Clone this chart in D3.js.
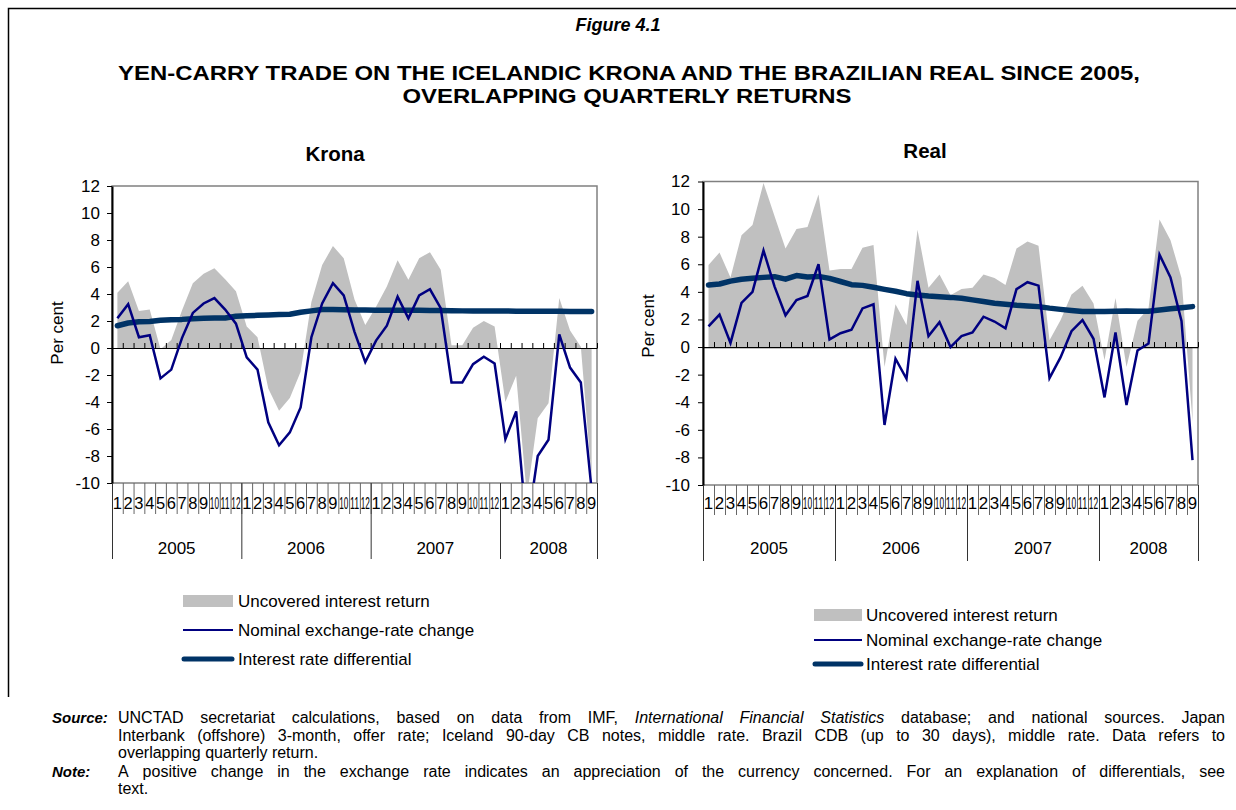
<!DOCTYPE html>
<html><head><meta charset="utf-8">
<script src="https://cdn.jsdelivr.net/npm/d3@7"></script>
<style>body{margin:0;background:#fff}svg{display:block}text{font-family:Arial,"Liberation Sans",sans-serif;fill:#000}</style>
</head><body><svg id="c" width="1236" height="810"></svg>
<script>
// ---------- data ----------
const months = ["1","2","3","4","5","6","7","8","9","10","11","12",
                "1","2","3","4","5","6","7","8","9","10","11","12",
                "1","2","3","4","5","6","7","8","9","10","11","12",
                "1","2","3","4","5","6","7","8","9"];
const years = ["2005","2006","2007","2008"];
const yearStarts = [0,12,24,36,45];
const yTicks = [-10,-8,-6,-4,-2,0,2,4,6,8,10,12];
const legendLabels = ["Uncovered interest return","Nominal exchange-rate change","Interest rate differential"];

const kronaUIR = [4.1,4.95,2.75,2.85,-0.1,0.6,2.8,4.8,5.5,5.9,5.1,4.2,1.6,0.8,-3.0,-4.65,-3.7,-1.75,3.4,6.15,7.55,6.65,3.6,1.7,3.05,4.55,6.5,5.05,6.65,7.1,5.8,0.2,0.2,1.5,2.0,1.6,-4.0,-2.05,-11.0,-5.2,-4.1,3.7,1.3,0.1,-9.6];
const kronaNER = [2.2,3.25,0.8,0.95,-2.25,-1.6,0.75,2.6,3.3,3.7,2.85,1.8,-0.7,-1.6,-5.5,-7.2,-6.25,-4.4,0.8,3.3,4.8,3.9,1.2,-1.05,0.55,1.65,3.8,2.2,3.9,4.35,2.95,-2.55,-2.55,-1.2,-0.65,-1.15,-6.75,-4.7,-13.5,-8.0,-6.8,1.0,-1.45,-2.55,-10.5];
const kronaIRD = [1.65,1.85,1.95,1.97,2.05,2.1,2.12,2.17,2.2,2.22,2.22,2.35,2.38,2.42,2.45,2.48,2.5,2.65,2.75,2.85,2.85,2.83,2.82,2.82,2.8,2.8,2.8,2.8,2.8,2.78,2.77,2.76,2.75,2.75,2.75,2.74,2.74,2.73,2.73,2.72,2.72,2.72,2.71,2.71,2.7];

const realUIR = [5.95,6.85,5.05,8.1,8.85,11.9,9.5,7.15,8.55,8.7,11.05,5.55,5.65,5.65,7.2,7.4,-1.45,3.1,1.6,8.5,4.3,5.25,3.75,4.2,4.3,5.25,5.0,4.5,7.15,7.65,7.35,0.5,1.95,3.8,4.45,3.15,-0.95,3.55,-1.45,1.9,2.8,9.25,7.75,5.0,-5.4];
const realNER = [1.5,2.35,0.3,3.2,4.0,7.0,4.4,2.3,3.4,3.7,6.0,0.55,1.0,1.25,2.8,3.1,-5.65,-0.85,-2.3,4.8,0.8,1.8,0.0,0.8,1.05,2.2,1.85,1.35,4.2,4.7,4.45,-2.25,-0.75,1.15,1.95,0.6,-3.65,1.05,-4.2,-0.25,0.25,6.7,5.05,1.9,-8.2];
const realIRD = [4.5,4.57,4.78,4.92,4.98,5.05,5.1,4.92,5.18,5.08,5.12,4.98,4.75,4.52,4.47,4.33,4.18,4.04,3.87,3.77,3.7,3.65,3.6,3.53,3.42,3.3,3.18,3.1,3.03,2.98,2.93,2.82,2.73,2.65,2.58,2.57,2.57,2.6,2.61,2.6,2.6,2.68,2.77,2.85,2.93];

// ---------- drawing ----------
const svg = d3.select("#c");
const AREA = "#c0c0c0", NAVY = "#000080", DARK = "#003366";

svg.append("path").attr("d","M8.5,697V8.5H1236").attr("fill","none").attr("stroke","#000").attr("stroke-width",1.5);

svg.append("text").attr("x",618).attr("y",30.5).attr("text-anchor","middle")
  .style("font-size","18px").style("font-weight","bold").style("font-style","italic").text("Figure 4.1");
const t1 = svg.append("text").attr("text-anchor","middle")
  .style("font-size","20.5px").style("font-weight","bold")
  .text("YEN-CARRY TRADE ON THE ICELANDIC KRONA AND THE BRAZILIAN REAL SINCE 2005,");
const tsx = 1022 / t1.node().getComputedTextLength();
t1.attr("transform",`translate(629,79.5) scale(${tsx},1)`);
svg.append("text").attr("text-anchor","middle")
  .style("font-size","20.5px").style("font-weight","bold")
  .attr("transform",`translate(627,102.5) scale(${tsx},1)`)
  .text("OVERLAPPING QUARTERLY RETURNS");

function panel(cfg, id){
  const n = months.length;
  const xb = d3.scaleBand().domain(d3.range(n)).range([cfg.x0,cfg.x1]).padding(0);
  const xl = d3.scaleLinear().domain([0,n]).range([cfg.x0,cfg.x1]);
  const y = d3.scaleLinear().domain([-10,12]).range([cfg.y1,cfg.y0]);
  const cx = i => xb(i) + xb.bandwidth()/2;
  const g = svg.append("g");

  g.append("clipPath").attr("id","clip"+id).append("rect")
    .attr("x",cfg.x0).attr("y",cfg.y0).attr("width",cfg.x1-cfg.x0).attr("height",cfg.y1-cfg.y0);

  // area
  g.append("path").datum(cfg.uir).attr("clip-path",`url(#clip${id})`)
    .attr("fill",AREA)
    .attr("d",d3.area().x((d,i)=>cx(i)).y0(y(0)).y1(d=>y(d)));

  // plot frame
  g.append("rect").attr("x",cfg.x0).attr("y",cfg.y0).attr("width",cfg.x1-cfg.x0).attr("height",cfg.y1-cfg.y0)
    .attr("fill","none").attr("stroke","#808080").attr("stroke-width",1.5);

  // zero axis with ticks
  const za = g.append("g").attr("transform",`translate(0,${y(0)})`)
    .call(d3.axisTop(xl).tickValues(d3.range(n+1)).tickSize(5).tickSizeOuter(0).tickFormat(""));
  za.select(".domain").attr("stroke","#000").attr("stroke-width",1.2);
  za.selectAll(".tick line").attr("stroke","#000").attr("stroke-width",1);

  // lines
  const line = d3.line().x((d,i)=>cx(i)).y(d=>y(d));
  g.append("path").datum(cfg.ird).attr("clip-path",`url(#clip${id})`)
    .attr("fill","none").attr("stroke",DARK).attr("stroke-width",5.5)
    .attr("stroke-linecap","round").attr("stroke-linejoin","round").attr("d",line);
  g.append("path").datum(cfg.ner).attr("clip-path",`url(#clip${id})`)
    .attr("fill","none").attr("stroke",NAVY).attr("stroke-width",2.5)
    .attr("stroke-linejoin","miter").attr("d",line);

  // y axis
  const ya = g.append("g").attr("transform",`translate(${cfg.x0},0)`)
    .call(d3.axisLeft(y).tickValues(yTicks).tickSize(5).tickPadding(cfg.pad).tickSizeOuter(0).tickFormat(d=>String(d)));
  ya.select(".domain").attr("stroke","#000").attr("stroke-width",2);
  ya.selectAll(".tick line").attr("stroke","#000");
  ya.selectAll(".tick text").style("font-size","17px").style("font-family","Arial,'Liberation Sans',sans-serif").attr("fill","#000");

  // category separators
  const ms = g.append("g").attr("transform",`translate(0,${cfg.y1})`)
    .call(d3.axisBottom(xl).tickValues(d3.range(n+1)).tickSize(cfg.mSep).tickFormat(""));
  ms.select(".domain").remove();
  ms.selectAll(".tick line").attr("stroke","#666");
  const ys = g.append("g").attr("transform",`translate(0,${cfg.y1})`)
    .call(d3.axisBottom(xl).tickValues(yearStarts).tickSize(cfg.ySep).tickFormat(""));
  ys.select(".domain").remove();
  ys.selectAll(".tick line").attr("stroke","#333");

  const bw = xb.bandwidth();
  g.selectAll(".mlab").data(months).join("text").attr("class","mlab")
    .attr("text-anchor","middle").style("font-size","17px")
    .text(d=>d)
    .attr("transform",function(d,i){
      const w = this.getComputedTextLength();
      const s = Math.min(1, (bw-1.6)/w);
      return `translate(${cx(i)},509) scale(${s},1)`;
    });
  g.selectAll(".ylab").data(years).join("text").attr("class","ylab")
    .attr("x",(d,i)=>(xl(yearStarts[i])+xl(yearStarts[i+1]))/2).attr("y",554).attr("text-anchor","middle")
    .style("font-size","17px").text(d=>d);

  // titles
  g.append("text").attr("x",cfg.tx).attr("y",cfg.ty).attr("text-anchor","middle")
    .style("font-size","20.5px").style("font-weight","bold").text(cfg.title);
  g.append("text").attr("transform",`translate(${cfg.lx+6},${cfg.ly}) rotate(-90)`).attr("text-anchor","middle")
    .style("font-size","17px").text("Per cent");

  // legend
  const L = cfg.leg;
  const lg = g.append("g");
  lg.append("rect").attr("x",L.x0).attr("y",L.r[0]-6).attr("width",L.x1-L.x0).attr("height",12).attr("fill",AREA);
  lg.append("line").attr("x1",L.x0).attr("x2",L.x1).attr("y1",L.r[1]).attr("y2",L.r[1]).attr("stroke",NAVY).attr("stroke-width",2);
  lg.append("line").attr("x1",L.x0+1).attr("x2",L.x1-1).attr("y1",L.r[2]).attr("y2",L.r[2]).attr("stroke",DARK).attr("stroke-width",5).attr("stroke-linecap","round");
  legendLabels.forEach((t,k)=>{
    lg.append("text").attr("x",L.tx).attr("y",L.r[k]+6).style("font-size","17px").text(t);
  });
}

panel({x0:112,x1:597,y0:186,y1:483,pad:7,mSep:31,ySep:76,
       uir:kronaUIR,ner:kronaNER,ird:kronaIRD,title:"Krona",tx:335,ty:161,lx:57,ly:333,
       leg:{x0:183,x1:233,tx:238,r:[601,630,659]}},"k");
panel({x0:703,x1:1198,y0:181.5,y1:485,pad:8,mSep:30,ySep:76,
       uir:realUIR,ner:realNER,ird:realIRD,title:"Real",tx:925,ty:158,lx:648,ly:326,
       leg:{x0:814,x1:862,tx:866,r:[615,640,664]}},"r");

// ---------- footer ----------
const FS = 16;
function measure(word, it, bold){
  const t = svg.append("text").style("font-size",FS+"px").style("font-style",it?"italic":"normal")
    .style("font-weight",bold?"bold":"normal").text(word);
  const w = t.node().getComputedTextLength(); t.remove(); return w;
}
function footLine(y, segs, justify){
  const x0 = 118, x1 = 1225;
  const words = [];
  segs.forEach(s => s.t.split(" ").filter(w=>w).forEach(w=>words.push({w, it:!!s.it})));
  words.forEach(o => o.len = measure(o.w, o.it));
  const sum = d3.sum(words, o=>o.len);
  const gap = justify ? (x1-x0-sum)/(words.length-1) : measure("a a")-measure("aa");
  let x = x0;
  words.forEach(o=>{
    svg.append("text").attr("x",x).attr("y",y).style("font-size",FS+"px")
      .style("font-style",o.it?"italic":"normal").text(o.w);
    x += o.len + gap;
  });
}
svg.append("text").attr("x",52).attr("y",722.5).style("font-size","15px").style("font-weight","bold").style("font-style","italic").text("Source:");
svg.append("text").attr("x",52).attr("y",776.5).style("font-size","15px").style("font-weight","bold").style("font-style","italic").text("Note:");
footLine(722.5,[{t:"UNCTAD secretariat calculations, based on data from IMF,"},{t:"International Financial Statistics",it:true},{t:"database; and national sources. Japan"}],true);
footLine(740.5,[{t:"Interbank (offshore) 3-month, offer rate; Iceland 90-day CB notes, middle rate. Brazil CDB (up to 30 days), middle rate. Data refers to"}],true);
footLine(757.5,[{t:"overlapping quarterly return."}],false);
footLine(776.5,[{t:"A positive change in the exchange rate indicates an appreciation of the currency concerned. For an explanation of differentials, see"}],true);
footLine(793.5,[{t:"text."}],false);
</script></body></html>
